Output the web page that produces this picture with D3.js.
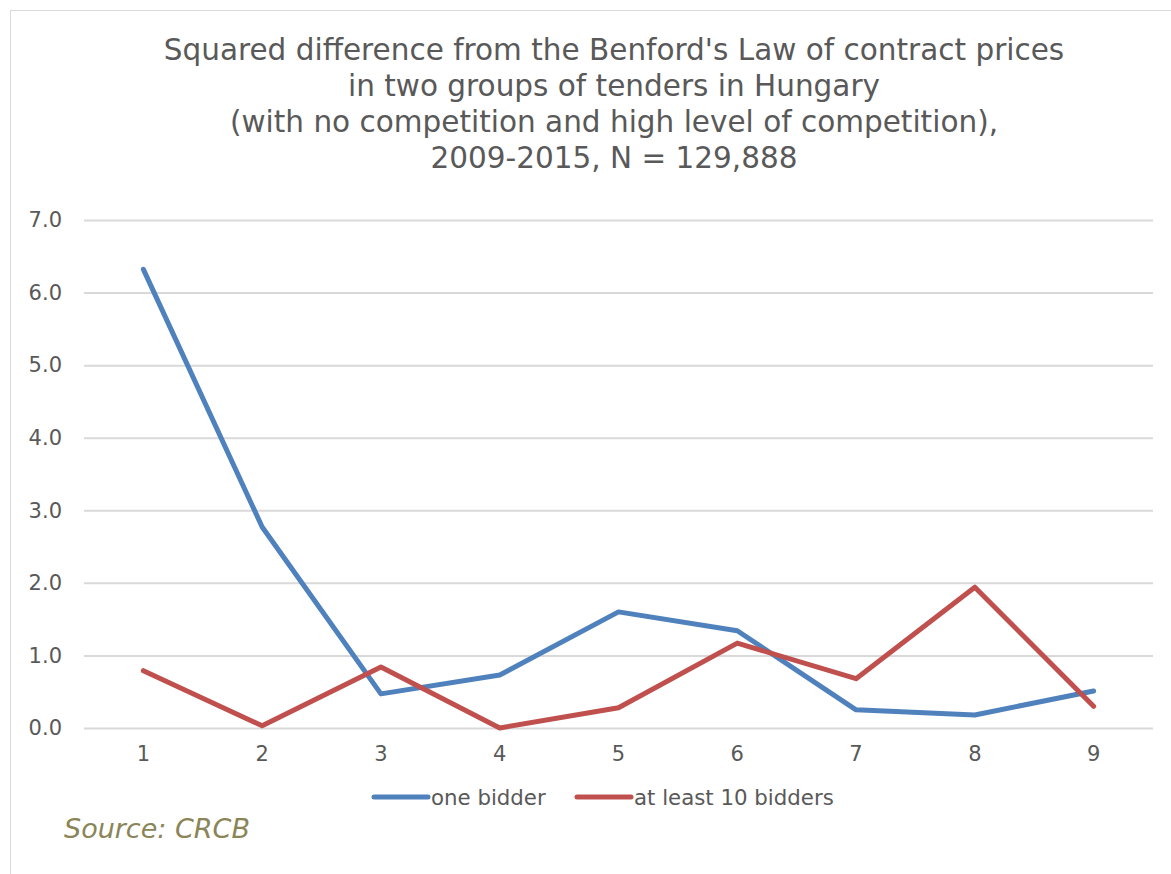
<!DOCTYPE html>
<html>
<head>
<meta charset="utf-8">
<script src="https://cdn.jsdelivr.net/npm/d3@7"></script>
<style>
  html, body { margin: 0; padding: 0; background: #fff; }
  svg { display: block; font-family: "DejaVu Sans", Verdana, sans-serif; }
</style>
</head>
<body>
<svg id="chart" width="1171" height="874"></svg>
<script>
// First significant digit of the contract price
const digits = ["1", "2", "3", "4", "5", "6", "7", "8", "9"];
// Squared difference from Benford's Law, per digit
const oneBidder = [6.32, 2.77, 0.47, 0.73, 1.60, 1.34, 0.25, 0.18, 0.51];
const tenBidders = [0.79, 0.03, 0.84, 0.00, 0.28, 1.17, 0.68, 1.94, 0.30];
const yTicks = [0, 1, 2, 3, 4, 5, 6, 7];
const titleLines = [
  "Squared difference from the Benford's Law of contract prices",
  "in two groups of tenders in Hungary",
  "(with no competition and high level of competition),",
  "2009-2015, N = 129,888"
];

const series = [
  { name: "one bidder", values: oneBidder, color: "#4f81bd" },
  { name: "at least 10 bidders", values: tenBidders, color: "#c0504d" }
];

const svg = d3.select("#chart");
const W = 1171, H = 874;
const plot = { left: 84, right: 1153, top: 220, bottom: 728 };
const FONT = "DejaVu Sans, Verdana, sans-serif";

// Chart area frame
svg.append("rect")
  .attr("x", 10.5).attr("y", 10.5)
  .attr("width", W).attr("height", H)
  .attr("fill", "#fff").attr("stroke", "#d9d9d9").attr("stroke-width", 1);

// Title
svg.append("g").selectAll("text").data(titleLines).join("text")
  .attr("x", 614).attr("y", (d, i) => 60 + i * 36)
  .attr("text-anchor", "middle")
  .attr("font-size", 29.5)
  .attr("fill", "#595959")
  .text(d => d);

const x = d3.scaleBand().domain(digits).range([plot.left, plot.right]);
const y = d3.scaleLinear().domain([0, 7]).range([plot.bottom, plot.top]);

// Horizontal gridlines and y labels
const yAxis = d3.axisLeft(y).tickValues(yTicks).tickFormat(d3.format(".1f"))
  .tickSize(-(plot.right - plot.left)).tickPadding(22);
const gy = svg.append("g").attr("transform", `translate(${plot.left},0)`).call(yAxis);
gy.select(".domain").remove();
gy.selectAll(".tick line").attr("stroke", "#d9d9d9").attr("stroke-width", 2);
gy.selectAll(".tick text").attr("font-size", 21).attr("fill", "#595959")
  .attr("font-family", FONT);

// Category labels
const xAxis = d3.axisBottom(x).tickSize(0).tickPadding(18);
const gx = svg.append("g").attr("transform", `translate(0,${plot.bottom})`).call(xAxis);
gx.select(".domain").remove();
gx.selectAll(".tick text").attr("font-size", 21).attr("fill", "#595959")
  .attr("font-family", FONT);

// Series lines
const line = d3.line()
  .x((d, i) => x(digits[i]) + x.bandwidth() / 2)
  .y(d => y(d));

svg.append("g").selectAll("path").data(series).join("path")
  .attr("d", s => line(s.values))
  .attr("fill", "none")
  .attr("stroke", s => s.color)
  .attr("stroke-width", 5)
  .attr("stroke-linejoin", "round")
  .attr("stroke-linecap", "round");

// Legend
const legendX = [374, 577];
const lg = svg.append("g").selectAll("g").data(series).join("g")
  .attr("transform", (d, i) => `translate(${legendX[i]},797)`);
lg.append("line")
  .attr("x1", 0).attr("x2", 54).attr("y1", 0).attr("y2", 0)
  .attr("stroke", d => d.color).attr("stroke-width", 5).attr("stroke-linecap", "round");
lg.append("text")
  .attr("x", 57).attr("y", 7.5)
  .attr("font-size", 21.3).attr("fill", "#595959")
  .text(d => d.name);

// Source note
svg.append("text")
  .attr("x", 64).attr("y", 838)
  .attr("font-size", 27).attr("font-style", "italic")
  .attr("fill", "#8a8558")
  .text("Source: CRCB");
</script>
</body>
</html>
